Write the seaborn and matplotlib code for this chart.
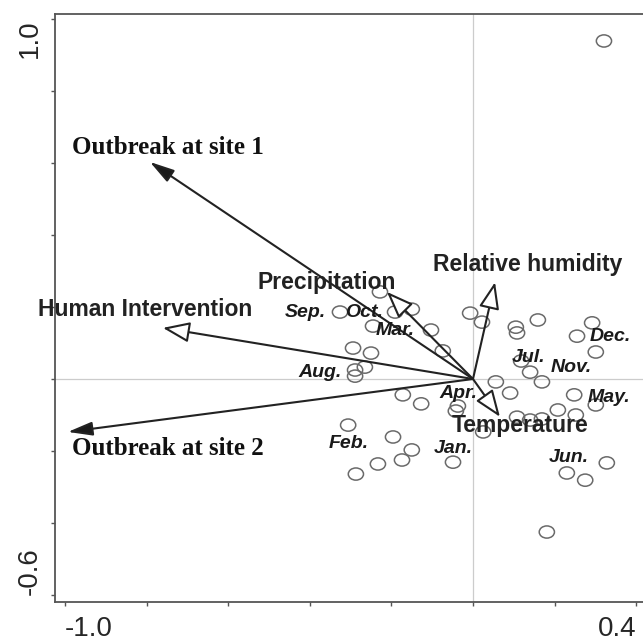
import matplotlib
matplotlib.use("Agg")
import matplotlib.pyplot as plt
import seaborn as sns
import pandas as pd
from matplotlib.path import Path
from matplotlib.transforms import Affine2D

# ---- data ----
site_x = [0.321, 0.181, -0.228, -0.191, -0.150, -0.326, -0.245, -0.103, -0.074, -0.007,
          0.022, 0.105, 0.108, 0.159, 0.292, 0.255, 0.301, 0.118, 0.140, 0.169,
          -0.294, -0.250, -0.265, -0.289, -0.289, 0.056, 0.091, -0.172, -0.127, -0.037,
          -0.042, 0.248, 0.301, 0.208, 0.252, 0.108, 0.140, 0.169, 0.025, -0.306,
          -0.196, -0.150, -0.174, -0.233, -0.287, -0.049, 0.230, 0.275, 0.328]
site_y = [0.939, -0.425, 0.242, 0.186, 0.194, 0.186, 0.147, 0.136, 0.078, 0.183,
          0.158, 0.144, 0.128, 0.164, 0.156, 0.119, 0.075, 0.050, 0.019, -0.008,
          0.086, 0.072, 0.033, 0.025, 0.008, -0.008, -0.039, -0.044, -0.069, -0.075,
          -0.089, -0.044, -0.072, -0.086, -0.100, -0.106, -0.114, -0.111, -0.147, -0.128,
          -0.161, -0.197, -0.225, -0.236, -0.264, -0.231, -0.261, -0.281, -0.233]

var_names = ["Outbreak at site 1", "Outbreak at site 2", "Human Intervention",
             "Precipitation", "Relative humidity", "Temperature"]
var_x = [-0.792, -0.993, -0.760, -0.211, 0.054, 0.066]
var_y = [0.603, -0.147, 0.142, 0.242, 0.269, -0.105]
var_is_response = [True, True, False, False, False, False]
var_label_x = [-0.983, -0.983, -0.804, -0.358, 0.135, 0.115]
var_label_y = [0.642, -0.192, 0.192, 0.267, 0.317, -0.128]

month_names = ["Sep.", "Oct.", "Mar.", "Aug.", "Jul.", "Nov.", "Dec.", "May.",
               "Apr.", "Jun.", "Jan.", "Feb."]
month_x = [-0.412, -0.267, -0.191, -0.375, 0.135, 0.240, 0.336, 0.333,
           -0.037, 0.235, -0.049, -0.304]
month_y = [0.186, 0.186, 0.136, 0.019, 0.061, 0.033, 0.117, -0.050,
           -0.039, -0.219, -0.194, -0.178]

x_ticks = [-1.0, -0.8, -0.6, -0.4, -0.2, 0.0, 0.2, 0.4]
x_ticklabels = ["-1.0", "", "", "", "", "", "", "0.4"]
y_ticks = [-0.6, -0.4, -0.2, 0.0, 0.2, 0.4, 0.6, 0.8, 1.0]
y_ticklabels = ["-0.6", "", "", "", "", "", "", "", "1.0"]

# ---- figure ----
sns.set_style("ticks")
plt.rcParams["font.family"] = ["Liberation Sans", "DejaVu Sans"]

W, H = 643, 641
fig = plt.figure(figsize=(W / 100, H / 100), dpi=100)
ax = fig.add_axes([55 / W, 39 / H, (W - 55) / W, 588 / H])
ax.set_xlim(-1.0245, 0.4167)
ax.set_ylim(-0.6194, 1.0139)

ax.axhline(0, color="#cccccc", lw=0.9, zorder=0)
ax.axvline(0, color="#cccccc", lw=0.9, zorder=0)

ellipse = Path.unit_circle().transformed(Affine2D().scale(1.0, 0.8))
df = pd.DataFrame({"x": site_x, "y": site_y})
sns.scatterplot(data=df, x="x", y="y", marker=ellipse, s=120, color="#6a6a6a",
                linewidth=1.1, ax=ax, zorder=2, legend=False)
coll = ax.collections[-1]
coll.set_facecolor("none")
coll.set_edgecolor("#6a6a6a")
coll.set_linewidth(1.1)

for name, vx, vy, resp, lx, ly in zip(var_names, var_x, var_y, var_is_response,
                                      var_label_x, var_label_y):
    if resp:
        style = "-|>,head_length=1.0,head_width=0.28"
        fc = "#1a1a1a"
    else:
        style = "-|>,head_length=1.1,head_width=0.42"
        fc = "white"
    ax.annotate("", xy=(vx, vy), xytext=(0, 0),
                arrowprops=dict(arrowstyle=style, mutation_scale=15, fc=fc,
                                ec="#222222", lw=1.5, shrinkA=0, shrinkB=0),
                zorder=3)
    if resp:
        ax.text(lx, ly, name, family=["Liberation Serif", "DejaVu Serif"],
                fontweight="bold", fontsize=18, ha="left", va="center",
                color="#111111", zorder=4)
    else:
        ax.text(lx, ly, name, fontweight="bold", fontsize=16.5, ha="center",
                va="center", color="#222222", zorder=4)

for m, mx, my in zip(month_names, month_x, month_y):
    ax.text(mx, my, m, fontweight="bold", fontstyle="italic", fontsize=14,
            ha="center", va="center", color="#1a1a1a", zorder=4)

ax.set_xticks(x_ticks)
ax.set_xticklabels(x_ticklabels, fontsize=20)
ax.set_yticks(y_ticks)
ax.set_yticklabels(y_ticklabels, fontsize=20, rotation=90)
ax.tick_params(axis="both", direction="out", length=3, width=1, color="#555555")
ax.tick_params(axis="x", pad=7)
ax.tick_params(axis="y", pad=6)
xl = ax.get_xticklabels()
xl[0].set_ha("left")
xl[-1].set_ha("right")
yl = ax.get_yticklabels()
yl[0].set_va("bottom")
yl[-1].set_va("top")

for s in ["left", "bottom", "top"]:
    ax.spines[s].set_color("#555555")
    ax.spines[s].set_linewidth(1.3)
ax.spines["right"].set_visible(False)
ax.set_xlabel("")
ax.set_ylabel("")

fig.savefig("out.png", dpi=100)
